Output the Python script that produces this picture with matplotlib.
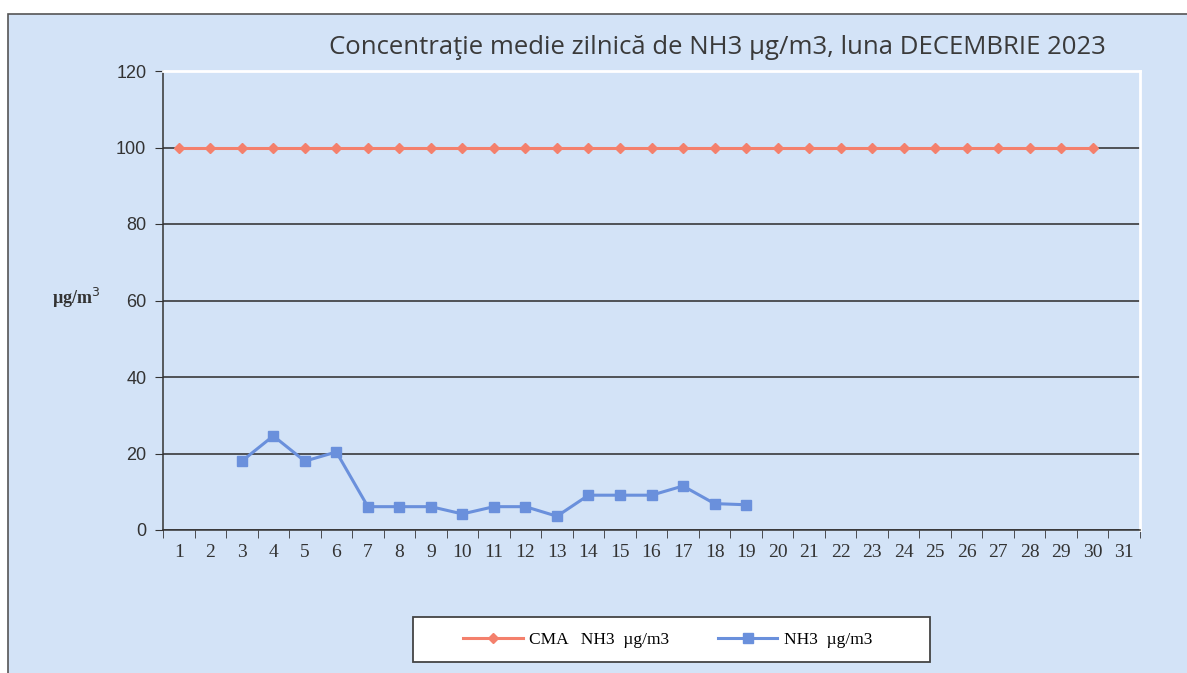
import matplotlib.pyplot as plt
from matplotlib.patches import Rectangle
import numpy as np

# --- data ---
days = list(range(1, 32))
cma_days = list(range(1, 31))
cma_values = [100] * 30
nh3_days = [3, 4, 5, 6, 7, 8, 9, 10, 11, 12, 13, 14, 15, 16, 17, 18, 19]
nh3_values = [18.0, 24.6, 18.0, 20.4, 6.1, 6.1, 6.1, 4.2, 6.1, 6.1, 3.6,
              9.1, 9.1, 9.1, 11.5, 6.9, 6.6]
y_ticks = [0, 20, 40, 60, 80, 100, 120]

bg = '#d3e3f7'
red = '#f4806c'
blue = '#6a90dc'
serif = ['Liberation Serif', 'DejaVu Serif']
W, H = 1187, 673

fig = plt.figure(figsize=(11.87, 6.73), dpi=100)
fig.patch.set_facecolor('white')
# scanned outer frame
fig.patches.append(Rectangle((8 / W, -0.01), 1.02, 1 - 14 / H + 0.01,
                             transform=fig.transFigure, facecolor=bg,
                             edgecolor='#555555', linewidth=1.2, zorder=-10))

ax = fig.add_axes([163 / W, 1 - 530 / H, (1140 - 163) / W, (530 - 71) / H])
ax.set_facecolor(bg)

ax.plot(cma_days, cma_values, color=red, marker='D', markersize=5,
        linewidth=2.2, label='CMA   NH3  µg/m3', zorder=3)
ax.plot(nh3_days, nh3_values, color=blue, marker='s', markersize=6.5,
        linewidth=2.2, label='NH3  µg/m3', zorder=3)

ax.set_xlim(0.5, 31.5)
ax.set_ylim(0, 120)
ax.set_yticks(y_ticks)
ax.set_yticklabels([str(v) for v in y_ticks], fontsize=13, family=['Liberation Sans'],
                   color='#333333')
ax.set_xticks(days)
ax.set_xticklabels([str(d) for d in days], fontsize=14, family=serif, color='#333333')
ax.set_xticks(np.arange(0.5, 32, 1), minor=True)
ax.tick_params(axis='x', which='major', length=0, pad=10)
ax.tick_params(axis='x', which='minor', length=6, direction='out', color='#333333')
ax.tick_params(axis='y', length=6, direction='out', color='#333333', pad=6)

ax.grid(axis='y', color='#2b2b2b', linewidth=1.1, zorder=1)
for s in ['top', 'right']:
    ax.spines[s].set_color('white')
    ax.spines[s].set_linewidth(2)
for s in ['left', 'bottom']:
    ax.spines[s].set_color('#333333')
    ax.spines[s].set_linewidth(1.1)

fig.text(52 / W, 1 - 298 / H, 'µg/m$^3$', fontsize=13, fontweight='bold',
         family=serif, ha='left', va='center', color='#333333')
fig.text(717 / W, 1 - 47 / H, 'Concentraţie medie zilnică de NH3 µg/m3, luna DECEMBRIE 2023',
         fontsize=18.5, color='#3a3a3a', family=['Open Sans', 'DejaVu Sans'],
         ha='center', va='center')

# legend box drawn separately to match its proportions
fig.patches.append(Rectangle((413 / W, 1 - 662 / H), (930 - 413) / W, 45 / H,
                             transform=fig.transFigure, facecolor='white',
                             edgecolor='#444444', linewidth=1.3, zorder=5))
leg = fig.legend(loc='center', bbox_to_anchor=(668 / W, 1 - 640 / H),
                 ncol=2, frameon=False, columnspacing=2.8,
                 handlelength=3.4, handletextpad=0.4,
                 prop={'family': serif, 'size': 12.5})
leg.set_zorder(6)

plt.savefig('out.png', dpi=100, facecolor=fig.get_facecolor())
